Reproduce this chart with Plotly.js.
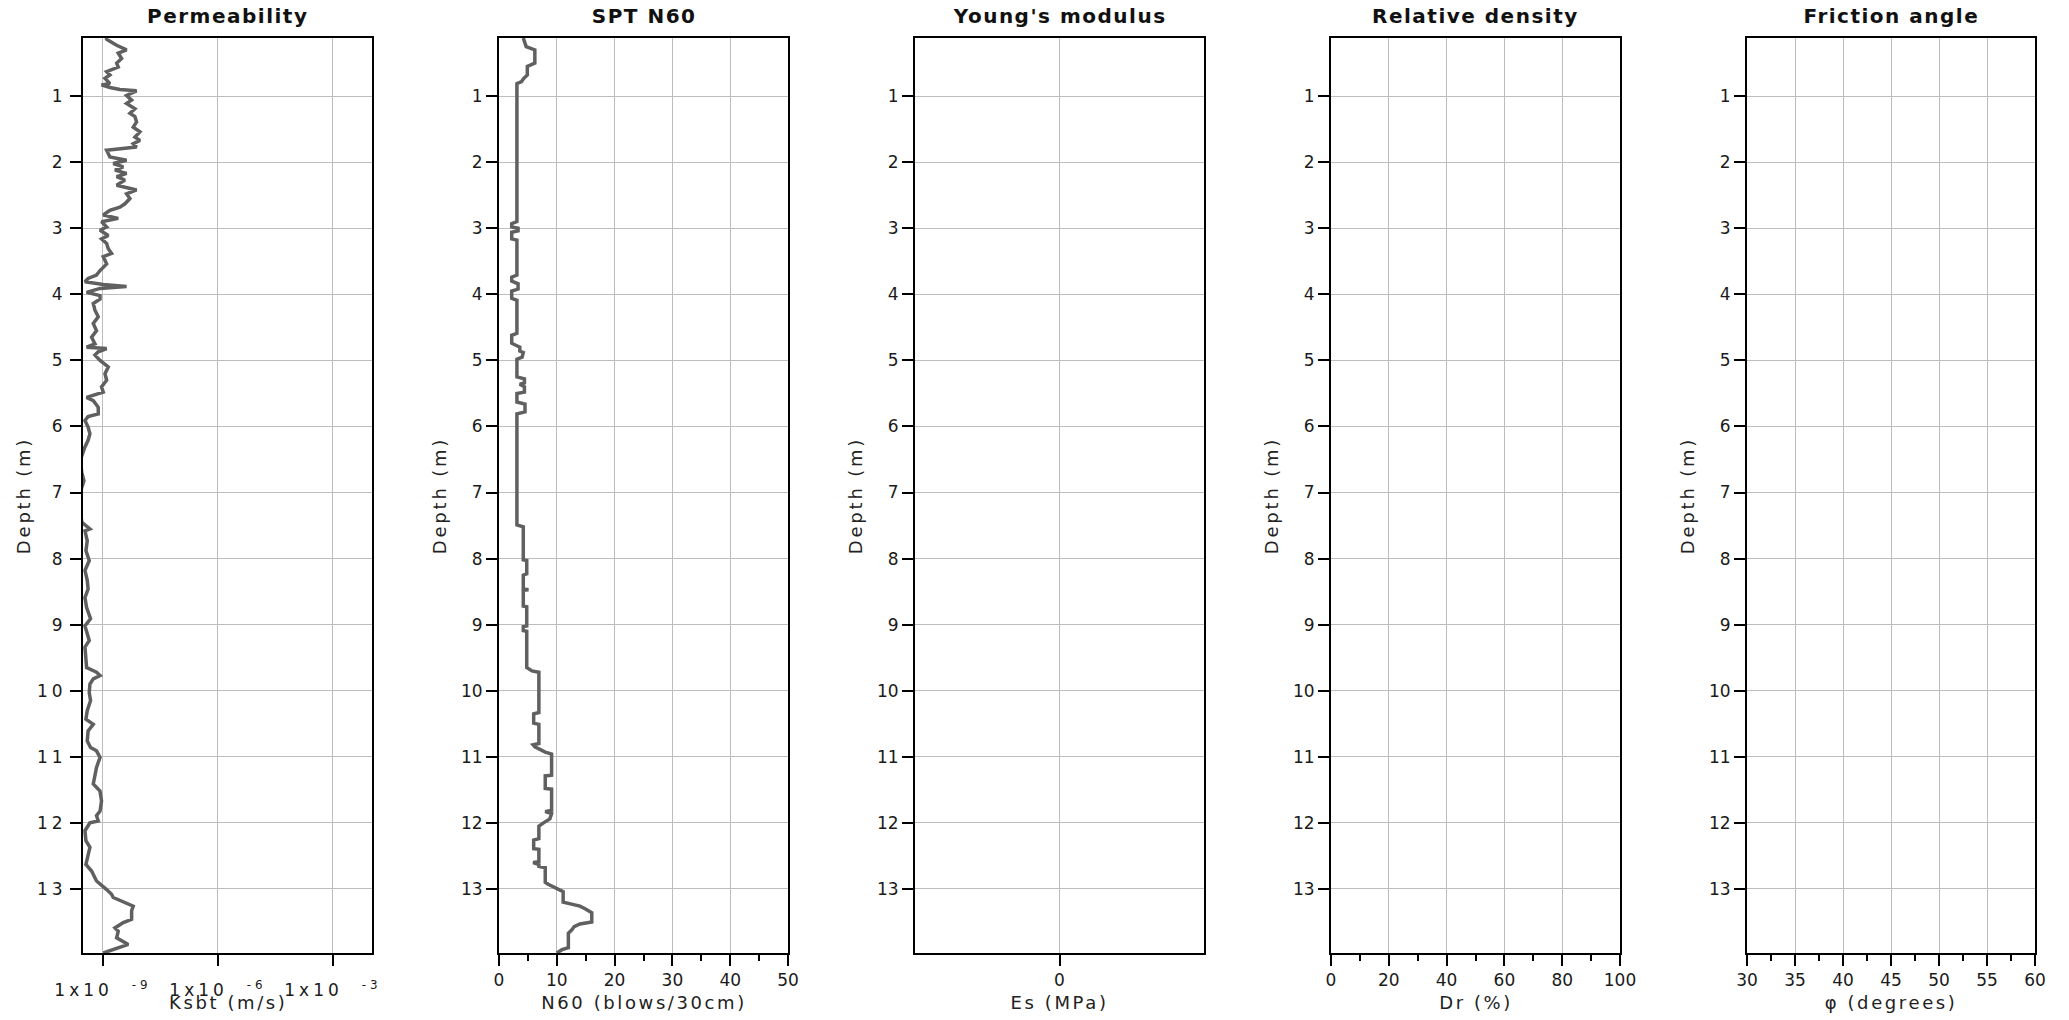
<!DOCTYPE html>
<html>
<head>
<meta charset="utf-8">
<script src="https://cdn.plot.ly/plotly-3.0.1.min.js"></script>
<style>
  html, body { margin: 0; padding: 0; background: #fff; }
  #chart { width: 2069px; height: 1020px; }
  /* open letter spacing used throughout the figure */
  #chart .xtick text, #chart .ytick text { letter-spacing: 4px; }
  #chart text[class$="title"] { letter-spacing: 2.8px; }
  #chart g.annotation text { letter-spacing: 2.6px; }
  #chart g.annotation[data-index="0"] text,
  #chart g.annotation[data-index="1"] text,
  #chart g.annotation[data-index="2"] text,
  #chart g.annotation[data-index="3"] text,
  #chart g.annotation[data-index="4"] text { letter-spacing: 1.5px; }
</style>
</head>
<body>
<div id="chart"></div>
<script>
// Depth profile panels: permeability, SPT N60, Young's modulus, relative density, friction angle

const panelTitles = ["Permeability", "SPT N60", "Young's modulus", "Relative density", "Friction angle"];
const xTitles = ["Ksbt (m/s)", "N60 (blows/30cm)", "Es (MPa)", "Dr (%)", "φ (degrees)"];

// Soil behaviour type permeability (m/s) vs depth (m)
const ksbtDepth = [
  0.12, 0.14, 0.20, 0.23, 0.30, 0.35, 0.43, 0.50, 0.56, 0.63, 0.68, 0.73, 0.81, 0.83, 0.87, 0.90,
  0.92, 0.99, 1.06, 1.11, 1.19, 1.26, 1.31, 1.39, 1.47, 1.54, 1.62, 1.67, 1.72, 1.77, 1.82, 1.92,
  1.97, 2.02, 2.07, 2.12, 2.17, 2.22, 2.27, 2.35, 2.42, 2.48, 2.55, 2.63, 2.68, 2.73, 2.80, 2.85,
  2.90, 2.98, 3.03, 3.11, 3.16, 3.23, 3.31, 3.38, 3.43, 3.54, 3.64, 3.71, 3.76, 3.81, 3.85, 3.88,
  3.91, 3.97, 4.02, 4.07, 4.14, 4.24, 4.34, 4.44, 4.55, 4.65, 4.75, 4.80, 4.82, 4.87, 4.92, 5.00,
  5.10, 5.20, 5.30, 5.40, 5.48, 5.56, 5.61, 5.71, 5.81, 5.85, 5.91, 6.01, 6.11, 6.21, 6.31, 6.39,
  6.50, 6.70, 6.82, 6.95, 7.20, 7.45,
  7.55, 7.58, 7.73, 7.88, 8.03, 8.18, 8.33, 8.46, 8.59, 8.74, 8.91, 9.02, 9.14, 9.24, 9.34, 9.50,
  9.65, 9.72, 9.77, 9.82, 9.90, 10.03, 10.15, 10.30, 10.43, 10.51, 10.61, 10.76, 10.86, 10.91, 11.01, 11.16,
  11.31, 11.41, 11.52, 11.67, 11.82, 11.89, 11.97, 12.00, 12.12, 12.27, 12.37, 12.48, 12.63, 12.73, 12.88, 13.01,
  13.08, 13.13, 13.21, 13.26, 13.33, 13.46, 13.51, 13.59, 13.64, 13.74, 13.84, 13.91, 13.97
];
const ksbtValue = [
  1.2e-9, 1.25e-9, 1.86e-9, 2.28e-9, 4.14e-9, 2.51e-9, 3.07e-9, 2.28e-9, 2.51e-9, 1.25e-9, 1.52e-9, 1.13e-9, 1.52e-9, 0.92e-9, 1.52e-9, 2.77e-9,
  7.55e-9, 4.14e-9, 5.6e-9, 4.14e-9, 6.84e-9, 5.06e-9, 6.84e-9, 7.55e-9, 6.18e-9, 9.23e-9, 6.84e-9, 9.23e-9, 6.18e-9, 7.55e-9, 1.25e-9, 1.52e-9,
  4.14e-9, 1.86e-9, 3.39e-9, 2.06e-9, 4.14e-9, 2.28e-9, 3.75e-9, 2.28e-9, 7.55e-9, 4.14e-9, 5.06e-9, 3.75e-9, 2.77e-9, 1.52e-9, 1.02e-9, 2.51e-9,
  0.92e-9, 1.25e-9, 0.84e-9, 1.38e-9, 0.92e-9, 1.25e-9, 1.38e-9, 1.68e-9, 1.02e-9, 1.25e-9, 0.84e-9, 0.68e-9, 0.41e-9, 0.34e-9, 1.02e-9, 4.14e-9,
  0.84e-9, 0.375e-9, 0.84e-9, 0.84e-9, 0.56e-9, 0.62e-9, 0.755e-9, 0.56e-9, 0.68e-9, 0.506e-9, 0.62e-9, 0.375e-9, 1.25e-9, 0.755e-9, 0.62e-9, 0.84e-9,
  1.38e-9, 1.13e-9, 1.25e-9, 0.92e-9, 1.02e-9, 0.375e-9, 0.56e-9, 0.755e-9, 0.755e-9, 0.41e-9, 0.34e-9, 0.41e-9, 0.458e-9, 0.41e-9, 0.34e-9, 0.307e-9,
  0.26e-9, 0.28e-9, 0.32e-9, 0.27e-9, 0.25e-9, 0.28e-9,
  0.458e-9, 0.34e-9, 0.39e-9, 0.36e-9, 0.44e-9, 0.34e-9, 0.39e-9, 0.41e-9, 0.34e-9, 0.375e-9, 0.476e-9, 0.34e-9, 0.39e-9, 0.44e-9, 0.34e-9, 0.36e-9,
  0.375e-9, 0.68e-9, 0.84e-9, 0.56e-9, 0.458e-9, 0.44e-9, 0.476e-9, 0.39e-9, 0.36e-9, 0.56e-9, 0.41e-9, 0.39e-9, 0.476e-9, 0.68e-9, 0.84e-9, 0.68e-9,
  0.62e-9, 0.56e-9, 0.84e-9, 0.92e-9, 0.84e-9, 0.68e-9, 0.755e-9, 0.458e-9, 0.34e-9, 0.36e-9, 0.458e-9, 0.41e-9, 0.36e-9, 0.506e-9, 0.68e-9, 1.25e-9,
  1.68e-9, 1.86e-9, 4.14e-9, 6.18e-9, 5.6e-9, 5.6e-9, 3.39e-9, 2.06e-9, 2.51e-9, 2.28e-9, 4.58e-9, 2.06e-9, 1.02e-9
];

// SPT N60 (blows/30cm) vs depth (m)
const sptDepth = [
  0.12, 0.25, 0.30, 0.50, 0.55, 0.68, 0.73, 0.78, 0.81, 2.90, 2.93, 2.98, 3.00, 3.04, 3.06, 3.16,
  3.18, 3.71, 3.74, 3.80, 3.84, 3.92, 3.95, 4.06, 4.09, 4.59, 4.62, 4.74, 4.77, 4.80, 4.86, 4.88,
  4.95, 4.98, 5.25, 5.28, 5.34, 5.36, 5.40, 5.48, 5.50, 5.63, 5.66, 5.78, 5.81, 7.49,
  7.52, 8.02, 8.03, 8.23, 8.25, 8.46, 8.47, 8.48, 8.72, 8.73, 9.02, 9.03, 9.09, 9.10, 9.65, 9.70,
  9.72, 10.33, 10.35, 10.49, 10.51, 10.80, 10.82, 10.85, 10.93, 10.96, 11.28, 11.29, 11.48, 11.49, 11.81, 11.83,
  11.86, 11.94, 12.00, 12.05, 12.24, 12.26, 12.39, 12.40, 12.59, 12.60, 12.63, 12.66, 12.68, 12.90, 12.93, 12.98,
  13.04, 13.20, 13.22, 13.26, 13.30, 13.36, 13.50, 13.53, 13.57, 13.62, 13.67, 13.89, 13.92, 13.97
];
const sptN60 = [
  4.2, 4.7, 6.2, 6.2, 4.9, 4.9, 4.3, 3.9, 3.1, 3.1, 2.2, 2.2, 3.3, 3.3, 2.2, 2.2,
  3.1, 3.1, 2.2, 2.2, 3.3, 3.3, 2.2, 2.2, 3.1, 3.1, 2.2, 2.2, 2.9, 3.6, 3.6, 4.2,
  4.0, 3.1, 3.1, 4.4, 4.4, 3.6, 4.4, 4.4, 3.1, 3.1, 4.5, 4.5, 3.1, 3.1,
  4.2, 4.2, 4.8, 4.8, 4.2, 4.2, 5.1, 4.2, 4.2, 4.8, 4.8, 4.2, 4.2, 4.8, 4.8, 5.7,
  6.9, 6.9, 6.0, 6.0, 6.9, 6.9, 5.9, 6.2, 8.0, 9.1, 9.1, 8.0, 8.0, 9.1, 9.1, 8.0,
  9.1, 8.8, 7.7, 6.9, 6.9, 6.0, 6.0, 6.9, 6.9, 5.9, 6.9, 6.9, 8.0, 8.0, 8.5, 9.7,
  11.1, 11.1, 12.3, 14.0, 14.9, 16.05, 16.05, 14.0, 13.0, 12.6, 12.0, 12.0, 10.9, 10.0
];

// No readings in these profiles
const esDepth = [], esValue = [];
const drDepth = [], drValue = [];
const phiDepth = [], phiValue = [];

// Permeability axis ticks
const ksbtTicks = [1e-9, 1e-6, 1e-3];
const ksbtTickText = ['1x10\u00a0\u00a0<sup>-9</sup>', '1x10\u00a0\u00a0<sup>-6</sup>', '1x10\u00a0\u00a0<sup>-3</sup>'];
const depthRange = [13.97, 0.12];

const LINE = '#606060';
const FONT = 'DejaVu Sans, Verdana, sans-serif';

const series = [
  {x: ksbtValue, y: ksbtDepth},
  {x: sptN60, y: sptDepth},
  {x: esValue, y: esDepth},
  {x: drValue, y: drDepth},
  {x: phiValue, y: phiDepth}
];

const traces = series.map((s, i) => ({
  type: 'scatter', mode: 'lines',
  x: s.x, y: s.y,
  xaxis: i === 0 ? 'x' : 'x' + (i + 1),
  yaxis: i === 0 ? 'y' : 'y' + (i + 1),
  line: {color: LINE, width: 3.5},
  showlegend: false, hoverinfo: 'x+y'
}));

// Panel geometry (paper fractions)
const W = 2069, H = 1020;
const mL = 83, mR = 34, mT = 38, mB = 67;
const plotW = W - mL - mR;
const panelW = 289, panelStep = 416;

const common = {
  showline: true, mirror: true, linecolor: '#000', linewidth: 2,
  showgrid: true, gridcolor: '#bdbdbd', gridwidth: 1, zeroline: false,
  ticks: 'outside', ticklen: 11, tickwidth: 2, tickcolor: '#000',
  tickfont: {family: FONT, size: 17, color: '#1a1a1a'}
};

const layout = {
  width: W, height: H,
  margin: {l: mL, r: mR, t: mT, b: mB, pad: 0},
  paper_bgcolor: '#fff', plot_bgcolor: '#fff',
  font: {family: FONT, color: '#222'},
  showlegend: false,
  annotations: []
};

const minorTicks = (d) => ({dtick: d, ticklen: 6, tickwidth: 2, tickcolor: '#000', ticks: 'outside', showgrid: false});

const xSpecs = [
  {type: 'log', range: [-9.52, -1.98], tickmode: 'array', tickvals: ksbtTicks, ticktext: ksbtTickText, ticklabelstandoff: 10},
  {range: [0, 50], dtick: 10, tick0: 0, minor: minorTicks(5)},
  {range: [-1, 1], tickmode: 'array', tickvals: [0]},
  {range: [0, 100], dtick: 20, tick0: 0, minor: minorTicks(10)},
  {range: [30, 60], dtick: 5, tick0: 30, minor: minorTicks(2.5)}
];

const domains = [];
for (let i = 0; i < 5; i++) {
  const x0 = (i * panelStep) / plotW;
  const x1 = Math.min(1, (i * panelStep + panelW) / plotW);
  domains.push([x0, x1]);
  const xk = i === 0 ? 'xaxis' : 'xaxis' + (i + 1);
  const yk = i === 0 ? 'yaxis' : 'yaxis' + (i + 1);
  const yRef = i === 0 ? 'y' : 'y' + (i + 1);
  const xRef = i === 0 ? 'x' : 'x' + (i + 1);
  layout[xk] = Object.assign({}, common, xSpecs[i], {domain: [x0, x1], anchor: yRef});
  layout[yk] = Object.assign({}, common, {
    domain: [0, 1], anchor: xRef,
    range: depthRange, dtick: 1, tick0: 0,
    title: {text: 'Depth (m)', font: {family: FONT, size: 18, color: '#222'}, standoff: 10}
  });
}

// panel headings (annotation indices 0-4)
domains.forEach((d, i) => {
  layout.annotations.push({
    text: '<b>' + panelTitles[i] + '</b>',
    xref: 'paper', yref: 'paper', x: (d[0] + d[1]) / 2, y: 1,
    xanchor: 'center', yanchor: 'middle', yshift: 22, showarrow: false,
    font: {family: FONT, size: 20, color: '#111'}
  });
});
// x-axis titles under the tick labels (annotation indices 5-9)
domains.forEach((d, i) => {
  layout.annotations.push({
    text: xTitles[i],
    xref: 'paper', yref: 'paper', x: (d[0] + d[1]) / 2, y: 0,
    xanchor: 'center', yanchor: 'middle', yshift: -49, showarrow: false,
    font: {family: FONT, size: 18, color: '#222'}
  });
});

Plotly.newPlot('chart', traces, layout, {displayModeBar: false, staticPlot: true});
</script>
</body>
</html>
